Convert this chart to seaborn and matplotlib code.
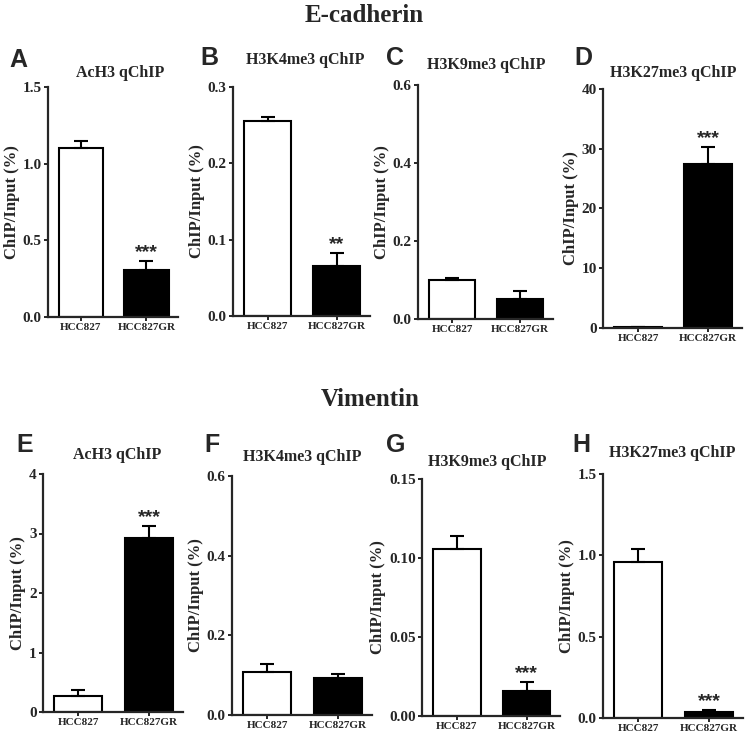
"""ChIP panels: E-cadherin and Vimentin promoters."""
import matplotlib
matplotlib.use("Agg")
import matplotlib.pyplot as plt
import seaborn as sns
import numpy as np
import pandas as pd

sns.set_theme(style="ticks")
plt.rcParams["font.family"] = ["Liberation Serif", "DejaVu Serif"]
plt.rcParams["font.weight"] = "bold"

groups = ["HCC827", "HCC827GR"]
letters = ["A", "B", "C", "D", "E", "F", "G", "H"]
marks = ["AcH3 qChIP", "H3K4me3 qChIP", "H3K9me3 qChIP", "H3K27me3 qChIP"] * 2
means = [[1.105, 0.307], [0.256, 0.066], [0.101, 0.052], [0.15, 27.4],
         [0.27, 2.92], [0.109, 0.093], [0.1055, 0.0156], [0.957, 0.037]]
sems = [[0.044, 0.056], [0.005, 0.017], [0.005, 0.021], [0.05, 2.85],
        [0.105, 0.2], [0.019, 0.011], [0.0084, 0.0057], [0.082, 0.014]]
ymax = [1.5, 0.3, 0.6, 40, 4, 0.6, 0.15, 1.5]
ystep = [0.5, 0.1, 0.2, 10, 1, 0.2, 0.05, 0.5]
yfmt = ["%.1f", "%.1f", "%.1f", "%d", "%d", "%.1f", "%.2f", "%.1f"]
stars = ["***", "**", "", "***", "***", "", "***", "***"]

W, H = 750, 741
# axes boxes in pixels: left, top, width, bottom
boxes = [(48, 87, 130, 317), (233, 87, 137, 316), (418, 85, 135, 319), (603, 89, 139, 328),
         (43, 474, 140, 712), (232, 476, 140, 715), (422, 479, 138, 716), (603, 474, 140, 718)]
letter_pos = [(9, 60), (200, 58), (386, 58), (574, 58),
              (16, 445), (204, 445), (386, 445), (572, 445)]
title_pos = [(120, 73), (305, 60), (486, 65), (673, 73),
             (117, 455), (302, 457), (487, 462), (672, 453)]

fig = plt.figure(figsize=(W / 100, H / 100), dpi=100)
fig.text(364 / W, 1 - 15 / H, "E-cadherin", ha="center", va="center", fontsize=18, fontweight="bold")
fig.text(370 / W, 1 - 400 / H, "Vimentin", ha="center", va="center", fontsize=18, fontweight="bold")

for i in range(8):
    l, t, w, b = boxes[i]
    ax = fig.add_axes([l / W, 1 - b / H, w / W, (b - t) / H])
    df = pd.DataFrame({"group": groups, "value": means[i]})
    sns.barplot(data=df, x="group", y="value", hue="group", palette=["white", "black"],
                edgecolor="black", linewidth=1.5, width=0.68, errorbar=None,
                legend=False, ax=ax)
    ax.errorbar([0, 1], means[i], yerr=[[0, 0], sems[i]], fmt="none", ecolor="black",
                elinewidth=1.5, capsize=4.8, capthick=1.5, zorder=1)
    if stars[i]:
        ax.annotate(stars[i], (1, means[i][1] + sems[i][1]), xytext=(0, 0),
                    textcoords="offset points", ha="center", va="bottom",
                    fontsize=14, fontweight="bold", family=["Liberation Sans", "DejaVu Sans"])
    ax.set_xlim(-0.5, 1.48)
    ax.set_ylim(0, ymax[i])
    ticks = np.arange(0, ymax[i] + ystep[i] / 2, ystep[i])
    ax.set_yticks(ticks)
    ax.set_yticklabels([yfmt[i] % v for v in ticks])
    ax.set_xlabel("")
    ax.set_ylabel("ChIP/Input (%)", fontsize=12, fontweight="bold", labelpad=2)
    sns.despine(ax=ax)
    for s in ["left", "bottom"]:
        ax.spines[s].set_linewidth(1.6)
    ax.tick_params(axis="both", width=1.4, length=3, pad=1.5)
    ax.tick_params(axis="y", labelsize=11)
    ax.tick_params(axis="x", labelsize=8)
    for lab in ax.get_xticklabels() + ax.get_yticklabels():
        lab.set_fontweight("bold")

    lx, ly = letter_pos[i]
    fig.text(lx / W, 1 - ly / H, letters[i], ha="left", va="center", fontsize=18,
             fontweight="bold", family=["Liberation Sans", "DejaVu Sans"])
    tx, ty = title_pos[i]
    fig.text(tx / W, 1 - ty / H, marks[i], ha="center", va="center", fontsize=11.5,
             fontweight="bold")

fig.savefig("out.png", dpi=100)
plt.close(fig)
